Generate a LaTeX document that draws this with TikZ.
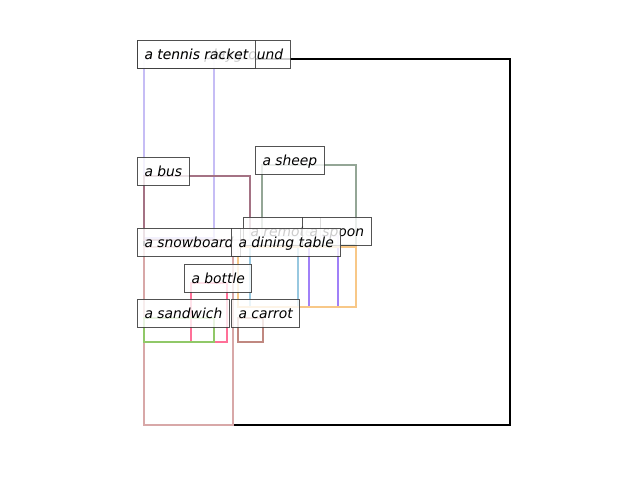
\documentclass[tikz,border=0pt]{standalone}
\usepackage{fontspec}
\newfontfamily\lblfont{DejaVu Sans}[ItalicFont={DejaVu Sans Oblique}]
\definecolor{cTennis}{HTML}{C6BDF5}
\definecolor{cBus}{HTML}{A47284}
\definecolor{cSheep}{HTML}{94A696}
\definecolor{cRemote}{HTML}{98C8E0}
\definecolor{cSpoon}{HTML}{A080F8}
\definecolor{cSnow}{HTML}{D8A8A8}
\definecolor{cDining}{HTML}{F8C888}
\definecolor{cBottle}{HTML}{FF7098}
\definecolor{cSandwich}{HTML}{90C868}
\definecolor{cCarrot}{HTML}{C08880}
\begin{document}
\begin{tikzpicture}[x=0.75pt,y=-0.75pt,
  objbox/.style={line width=1.9pt, line join=miter},
  lbl/.style={anchor=base west, fill=white, fill opacity=0.8, text opacity=1,
    draw=black!75, draw opacity=0.9, line width=0.75pt,
    inner xsep=5.25pt, inner ysep=0pt, text height=13.9pt, text depth=7.1pt,
    font=\lblfont\itshape\fontsize{10.4}{12}\selectfont}]
\useasboundingbox (0,0) rectangle (640,480);
% boxes
\draw[objbox, line width=2.1pt, black] (144,59) rectangle (510,425);
\draw[objbox, cTennis] (144,59) rectangle (214,238);
\draw[objbox, cBus] (144,176) rectangle (250,240);
\draw[objbox, cSheep] (262,165) rectangle (356,245);
\draw[objbox, cRemote] (250,236) rectangle (298,307);
\draw[objbox, cSpoon] (309,236) rectangle (338,307);
\draw[objbox, cSnow] (144,247) rectangle (233,425);
\draw[objbox, cDining] (238,247) rectangle (356,307);
\draw[objbox, cBottle] (191,283) rectangle (227,342);
\draw[objbox, cSandwich] (144,318) rectangle (214,342);
\draw[objbox, cCarrot] (238,318) rectangle (263,342);
% labels
\node[lbl] (lground) at (137,59) {a tennis playground};
\node[lbl] (ltennis) at (137,59) {a tennis racket};
\node[lbl] (lbus) at (137,176) {a bus};
\node[lbl] (lsheep) at (255,165) {a sheep};
\node[lbl] (lremote) at (243,236) {a remote};
\node[lbl] (lspoon) at (302,236) {a spoon};
\node[lbl] (lsnow) at (137,247) {a snowboard};
\node[lbl] (ldining) at (231,247) {a dining table};
\node[lbl] (lbottle) at (184,283) {a bottle};
\node[lbl] (lsandwich) at (137,318) {a sandwich};
\node[lbl] (lcarrot) at (231,318) {a carrot};
\end{tikzpicture}
\end{document}
